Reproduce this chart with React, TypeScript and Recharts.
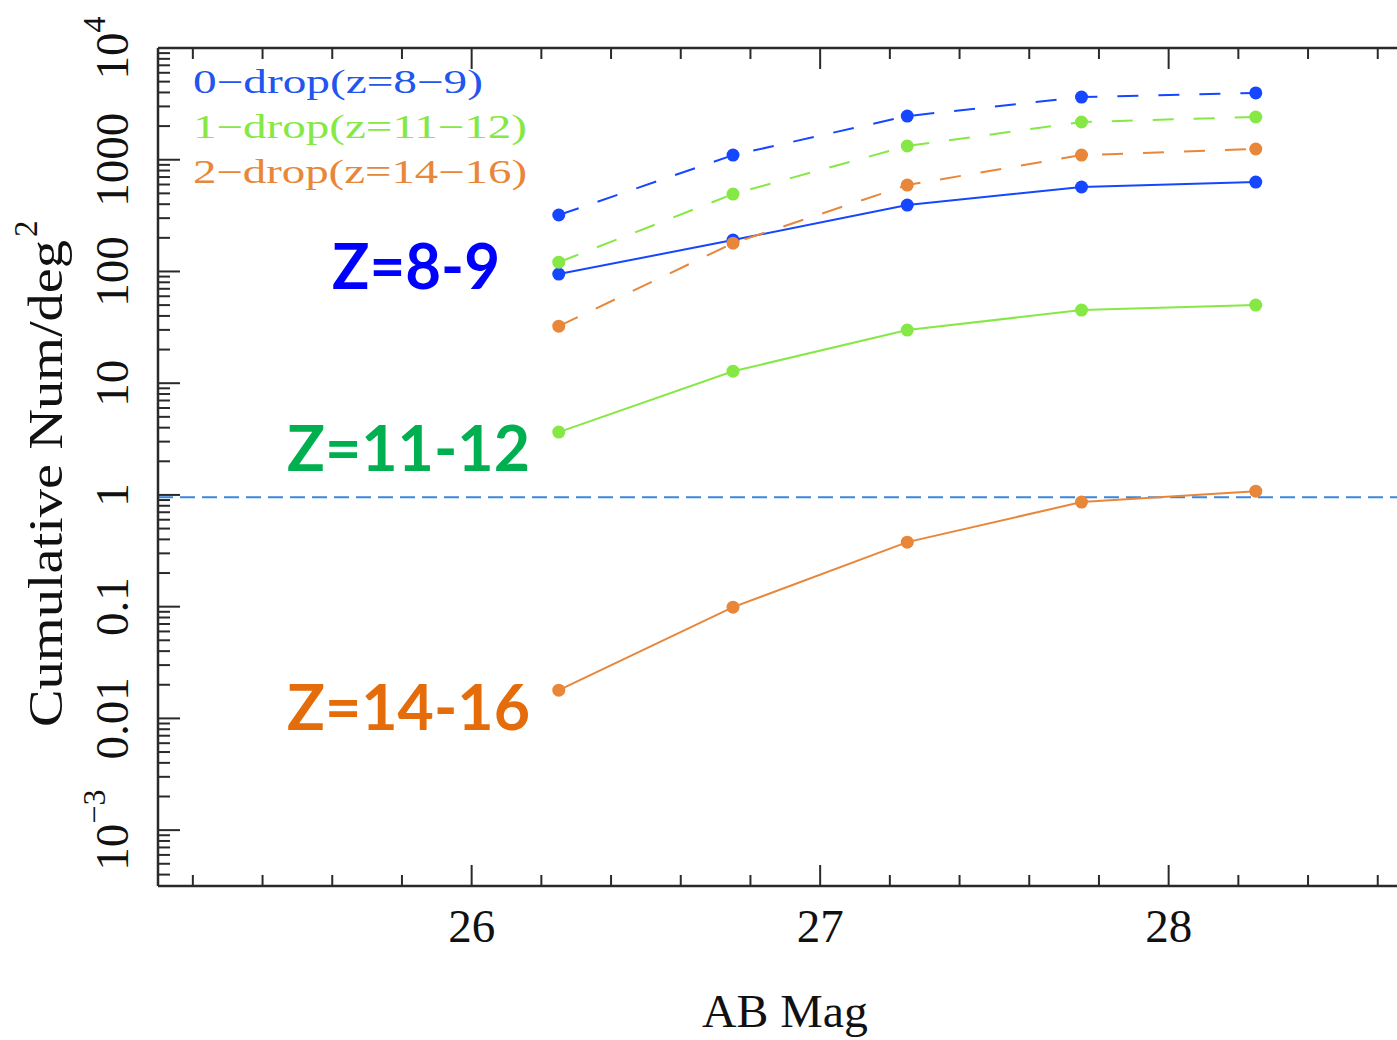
import React from 'react';
import { LineChart, Line, XAxis, YAxis, ReferenceLine } from 'recharts';

// ---- data ----
const mags = [26.25, 26.75, 27.25, 27.75, 28.25];
const blueDashed = [320, 1100, 2460, 3640, 3960];
const greenDashed = [121, 493, 1327, 2176, 2412];
const orangeDashed = [32.4, 179, 593, 1100, 1247];
const blueSolid = [94.8, 191, 393, 570, 631];
const greenSolid = [3.65, 12.8, 29.9, 45.1, 50.0];
const orangeSolid = [0.0179, 0.099, 0.378, 0.863, 1.08];
const unityLevel = 0.955;

const xMajorTicks = [26, 27, 28];
const xMajorLabels = ['26', '27', '28'];
const xMinorTicks = [25.2, 25.4, 25.6, 25.8, 26.2, 26.4, 26.6, 26.8, 27.2, 27.4, 27.6, 27.8, 28.2, 28.4, 28.6];
const yMajorTicks = [0.001, 0.01, 0.1, 1, 10, 100, 1000, 10000];
const yMajorLabels: [string, string][] = [
  ['10', '\u22123'], ['0.01', ''], ['0.1', ''], ['1', ''], ['10', ''], ['100', ''], ['1000', ''], ['10', '4'],
];
const yMinorMantissas = [2, 3, 4, 5, 6, 7, 8, 9];
const legendLabels = ['0\u2212drop(z=8\u22129)', '1\u2212drop(z=11\u221212)', '2\u2212drop(z=14\u221216)'];
const annotations = ['Z=8-9', 'Z=11-12', 'Z=14-16'];

const rows = mags.map((m, i) => ({
  mag: m,
  bd: blueDashed[i],
  gd: greenDashed[i],
  od: orangeDashed[i],
  bs: blueSolid[i],
  gs: greenSolid[i],
  os: orangeSolid[i],
}));

// ---- style / layout ----
const W = 1397;
const H = 1040;
const PLOT_L = 158;
const PLOT_T = 48;
const PLOT_B = 886;
const PLOT_W = 1254.6;
const PLOT_R = PLOT_L + PLOT_W;
const AX = '#2a2a2a';
const BLUE = '#1447ff';
const GREEN = '#86e845';
const ORANGE = '#e8873a';
const REF = '#3a86e0';
const SERIF = '"Liberation Serif", "DejaVu Serif", serif';

const yMinorTicks: number[] = [];
for (let k = -4; k <= 3; k++) {
  for (const m of yMinorMantissas) {
    const v = m * Math.pow(10, k);
    if (v > Math.pow(10, -3.5) && v < 1e4) yMinorTicks.push(v);
  }
}
const yTicks = [...yMinorTicks, ...yMajorTicks].sort((a, b) => a - b);
const xTicks = [...xMinorTicks, ...xMajorTicks].sort((a, b) => a - b);

const majorYIndex = (v: number) =>
  yMajorTicks.findIndex((t) => Math.abs(Math.log10(t) - Math.log10(v)) < 1e-6);
const majorXIndex = (v: number) => xMajorTicks.findIndex((t) => Math.abs(t - v) < 1e-6);

const LeftTick = (props: any) => {
  const { y, payload } = props;
  const idx = majorYIndex(payload.value);
  const major = idx >= 0;
  const lab = major ? yMajorLabels[idx] : null;
  return (
    <g>
      <line x1={PLOT_L} x2={PLOT_L + (major ? 22 : 12)} y1={y} y2={y} stroke={AX} strokeWidth={2} />
      {lab && (
        <text
          transform={`translate(128,${y}) rotate(-90)`}
          textAnchor="middle"
          fontFamily={SERIF}
          fontSize={47}
          fill="#111"
        >
          {lab[0]}
          {lab[1] && (
            <tspan dy={-23} fontSize={32}>
              {lab[1]}
            </tspan>
          )}
        </text>
      )}
    </g>
  );
};

const RightTick = (props: any) => {
  const { y, payload } = props;
  const major = majorYIndex(payload.value) >= 0;
  return <line x1={PLOT_R} x2={PLOT_R - (major ? 22 : 12)} y1={y} y2={y} stroke={AX} strokeWidth={2} />;
};

const BottomTick = (props: any) => {
  const { x, payload } = props;
  const idx = majorXIndex(payload.value);
  const major = idx >= 0;
  return (
    <g>
      <line x1={x} x2={x} y1={PLOT_B} y2={PLOT_B - (major ? 21 : 11)} stroke={AX} strokeWidth={2} />
      {major && (
        <text x={x} y={942} textAnchor="middle" fontFamily={SERIF} fontSize={47} fill="#111">
          {xMajorLabels[idx]}
        </text>
      )}
    </g>
  );
};

const TopTick = (props: any) => {
  const { x, payload } = props;
  const major = majorXIndex(payload.value) >= 0;
  return <line x1={x} x2={x} y1={PLOT_T} y2={PLOT_T + (major ? 21 : 11)} stroke={AX} strokeWidth={2} />;
};

const dotStyle = (c: string) => ({ r: 6.5, fill: c, stroke: 'none', strokeWidth: 0, strokeDasharray: 'none' });

export default function App() {
  return (
    <div style={{ position: 'absolute', left: 0, top: 0, width: W, height: H, background: '#fff', overflow: 'hidden' }}>
      <LineChart
        width={W}
        height={H}
        data={rows}
        margin={{ top: 0, right: W - PLOT_R, bottom: 0, left: 0 }}
      >
        <XAxis
          xAxisId="b"
          type="number"
          dataKey="mag"
          domain={[25.1, 28.7]}
          allowDataOverflow
          ticks={xTicks}
          interval={0}
          height={H - PLOT_B}
          axisLine={{ stroke: AX, strokeWidth: 2.5 }}
          tickLine={false}
          tick={<BottomTick />}
        />
        <XAxis
          xAxisId="t"
          orientation="top"
          type="number"
          dataKey="mag"
          domain={[25.1, 28.7]}
          allowDataOverflow
          ticks={xTicks}
          interval={0}
          height={PLOT_T}
          axisLine={{ stroke: AX, strokeWidth: 2.5 }}
          tickLine={false}
          tick={<TopTick />}
        />
        <YAxis
          yAxisId="l"
          scale="log"
          type="number"
          domain={[Math.pow(10, -3.5), 1e4]}
          allowDataOverflow
          ticks={yTicks}
          interval={0}
          width={PLOT_L}
          axisLine={{ stroke: AX, strokeWidth: 2.5 }}
          tickLine={false}
          tick={<LeftTick />}
        />
        <YAxis
          yAxisId="r"
          orientation="right"
          scale="log"
          type="number"
          domain={[Math.pow(10, -3.5), 1e4]}
          allowDataOverflow
          ticks={yTicks}
          interval={0}
          width={0}
          axisLine={{ stroke: AX, strokeWidth: 2.5 }}
          tickLine={false}
          tick={<RightTick />}
        />
        <ReferenceLine
          xAxisId="b"
          yAxisId="l"
          y={unityLevel}
          stroke={REF}
          strokeWidth={2}
          strokeDasharray="15 7"
        />
        <Line xAxisId="b" yAxisId="l" dataKey="bs" stroke={BLUE} strokeWidth={2} dot={dotStyle(BLUE)} isAnimationActive={false} />
        <Line xAxisId="b" yAxisId="l" dataKey="gs" stroke={GREEN} strokeWidth={2} dot={dotStyle(GREEN)} isAnimationActive={false} />
        <Line xAxisId="b" yAxisId="l" dataKey="os" stroke={ORANGE} strokeWidth={2} dot={dotStyle(ORANGE)} isAnimationActive={false} />
        <Line xAxisId="b" yAxisId="l" dataKey="bd" stroke={BLUE} strokeWidth={2} strokeDasharray="21 20" dot={dotStyle(BLUE)} isAnimationActive={false} />
        <Line xAxisId="b" yAxisId="l" dataKey="gd" stroke={GREEN} strokeWidth={2} strokeDasharray="21 20" dot={dotStyle(GREEN)} isAnimationActive={false} />
        <Line xAxisId="b" yAxisId="l" dataKey="od" stroke={ORANGE} strokeWidth={2} strokeDasharray="21 20" dot={dotStyle(ORANGE)} isAnimationActive={false} />
      </LineChart>
      <svg
        width={W}
        height={H}
        style={{ position: 'absolute', left: 0, top: 0, pointerEvents: 'none' }}
      >
        {/* legend */}
        <text x={193} y={93} fontFamily={SERIF} fontSize={33} fill="#2255ee" textLength={290} lengthAdjust="spacingAndGlyphs">
          {legendLabels[0]}
        </text>
        <text x={193} y={138} fontFamily={SERIF} fontSize={33} fill={GREEN} textLength={334} lengthAdjust="spacingAndGlyphs">
          {legendLabels[1]}
        </text>
        <text x={193} y={183} fontFamily={SERIF} fontSize={33} fill={ORANGE} textLength={334} lengthAdjust="spacingAndGlyphs">
          {legendLabels[2]}
        </text>
        {/* annotations */}
        <text x={332} y={289} fontFamily="Lato, 'Open Sans', sans-serif" fontWeight={700} fontSize={64} fill="#0000ff" textLength={168} lengthAdjust="spacingAndGlyphs">
          {annotations[0]}
        </text>
        <text x={287} y={471} fontFamily="Lato, 'Open Sans', sans-serif" fontWeight={700} fontSize={64} fill="#00b050" textLength={243} lengthAdjust="spacingAndGlyphs">
          {annotations[1]}
        </text>
        <text x={287} y={730} fontFamily="Lato, 'Open Sans', sans-serif" fontWeight={700} fontSize={64} fill="#e46c0a" textLength={243} lengthAdjust="spacingAndGlyphs">
          {annotations[2]}
        </text>
        {/* axis titles */}
        <text transform="translate(62,727) rotate(-90)" fontFamily={SERIF} fontSize={48} fill="#111" textLength={487} lengthAdjust="spacingAndGlyphs">
          Cumulative Num/deg
        </text>
        <text transform="translate(37,237) rotate(-90)" fontFamily={SERIF} fontSize={33} fill="#111">
          2
        </text>
        <text x={785} y={1027} textAnchor="middle" fontFamily={SERIF} fontSize={46} fill="#111" textLength={166} lengthAdjust="spacingAndGlyphs">
          AB Mag
        </text>
      </svg>
    </div>
  );
}
